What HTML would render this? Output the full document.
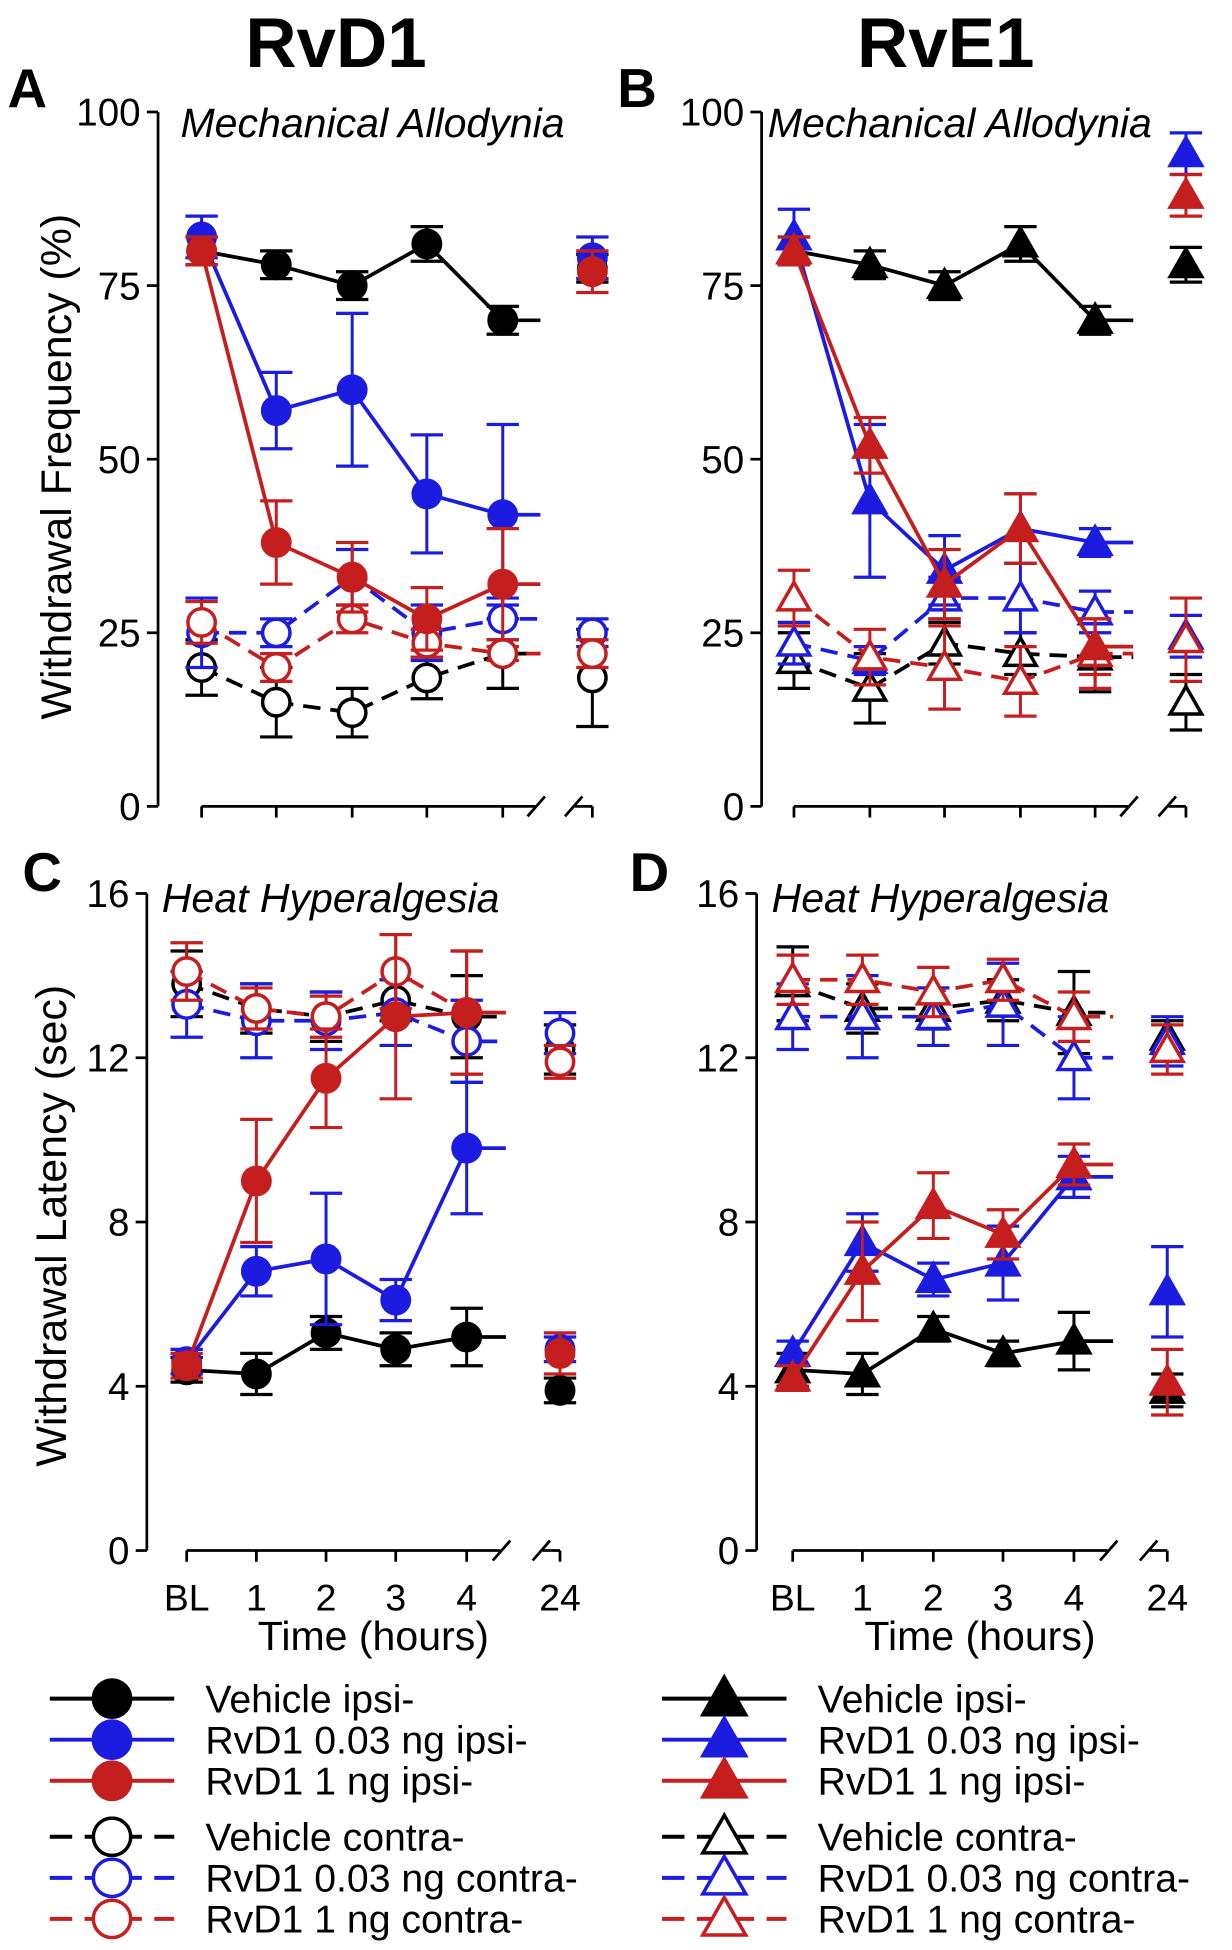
<!DOCTYPE html>
<html><head><meta charset="utf-8"><style>
html,body{margin:0;padding:0;background:#fff;}
svg{display:block;font-family:"Liberation Sans",Arial,sans-serif;}
</style></head><body>
<svg id="fig" width="1232" height="1950" viewBox="0 0 990 1567" xmlns="http://www.w3.org/2000/svg">
<text x="270" y="54" font-size="57" font-weight="bold" text-anchor="middle">RvD1</text>
<text x="760" y="54" font-size="57" font-weight="bold" text-anchor="middle">RvE1</text>
</svg>
<script>
// ---- Data ----
const hours = ["BL","1","2","3","4","24"];
const seriesNames = ["Vehicle ipsi-","RvD1 0.03 ng ipsi-","RvD1 1 ng ipsi-","Vehicle contra-","RvD1 0.03 ng contra-","RvD1 1 ng contra-"];
const yTicksPct = [0,25,50,75,100];
const yTicksSec = [0,4,8,12,16];
// Panel A (RvD1 mechanical, %)
const aVehIpsi = [80,78,75,81,70,77.5];   const aVehIpsiErr = [2,2,2,2.5,2,2];
const aLowIpsi = [82,57,60,45,42,79];     const aLowIpsiErr = [3,5.5,11,8.5,13,3];
const aHighIpsi = [80,38,33,27,32,77];    const aHighIpsiErr = [2,6,5,4.5,8,3];
const aVehCon = [20,15,13.5,18.5,22,18.5]; const aVehConErr = [4,5,3.5,3,5,7];
const aLowCon = [25,25,33,25,27,25];      const aLowConErr = [5,2,4,4,3,2];
const aHighCon = [26.5,20,27,23.5,22,22]; const aHighConErr = [3,2,2,2,1,2];
// Panel B (RvE1 mechanical, %)
const bVehIpsi = [80,78,75,81,70,78];     const bVehIpsiErr = [2,2,2,2.5,2,2.5];
const bLowIpsi = [82,44,34,40,38,94];     const bLowIpsiErr = [4,11,5,5,2,3];
const bHighIpsi = [80,52,32,40,23,88];    const bHighIpsiErr = [2,4,5,5,4,3];
const bVehCon = [21,17,23.5,22,21.5,15];  const bVehConErr = [4,5,3,3,5,4];
const bLowCon = [23.5,21,30,30,28,24.5];  const bLowConErr = [3,2,3,5,3,3];
const bHighCon = [30,21.5,20,18,22,24];   const bHighConErr = [4,4,6,5,5,6];
// Panel C (RvD1 heat, sec)
const cVehIpsi = [4.4,4.3,5.3,4.9,5.2,3.9];   const cVehIpsiErr = [0.3,0.5,0.4,0.4,0.7,0.3];
const cLowIpsi = [4.6,6.8,7.1,6.1,9.8,4.9];   const cLowIpsiErr = [0.3,0.6,1.6,0.5,1.6,0.3];
const cHighIpsi = [4.5,9.0,11.5,13.0,13.1,4.8]; const cHighIpsiErr = [0.3,1.5,1.2,2,1.5,0.5];
const cVehCon = [13.8,13.2,13.0,13.4,13.0,12.2]; const cVehConErr = [0.8,0.6,0.6,0.5,1,0.6];
const cLowCon = [13.3,12.9,12.9,13.1,12.4,12.6]; const cLowConErr = [0.8,0.9,0.7,0.8,1,0.5];
const cHighCon = [14.1,13.2,13.0,14.1,13.1,11.9]; const cHighConErr = [0.7,0.5,0.5,0.9,1.5,0.4];
// Panel D (RvE1 heat, sec)
const dVehIpsi = [4.4,4.3,5.4,4.8,5.1,3.9];   const dVehIpsiErr = [0.4,0.5,0.3,0.3,0.7,0.4];
const dLowIpsi = [4.8,7.5,6.6,7.0,9.1,6.3];   const dLowIpsiErr = [0.3,0.7,0.4,0.9,0.5,1.1];
const dHighIpsi = [4.2,6.8,8.4,7.7,9.4,4.1];  const dHighIpsiErr = [0.3,1.2,0.8,0.6,0.5,0.8];
const dVehCon = [13.8,13.2,13.2,13.4,13.1,12.5]; const dVehConErr = [0.9,0.6,0.5,0.5,1,0.4];
const dLowCon = [13.0,13.0,13.0,13.3,12.0,12.4]; const dLowConErr = [0.8,1,0.7,1,1,0.6];
const dHighCon = [13.9,13.9,13.6,13.9,13.0,12.2]; const dHighConErr = [0.6,0.6,0.6,0.5,0.6,0.6];

const NS = "http://www.w3.org/2000/svg";
const svg = document.getElementById("fig");
const COLORS = ["#000000","#1c1ce0","#c41e1e","#000000","#1c1ce0","#c41e1e"];

function mk(tag, attrs, parent){
  const e = document.createElementNS(NS, tag);
  for (const k in attrs) e.setAttribute(k, attrs[k]);
  (parent||svg).appendChild(e);
  return e;
}

function marker(g, shape, x, y, color, filled, r){
  let m;
  if (shape === "circle") {
    m = mk("circle", {cx:x, cy:y, r:r, fill: filled?color:"#fff", stroke:color, "stroke-width":2.8}, g);
  } else {
    const s = r*1.15;
    m = mk("polygon", {points:`${x},${y-s} ${x-s},${y+s*0.75} ${x+s},${y+s*0.75}`, fill: filled?color:"#fff", stroke:color, "stroke-width":2.8}, g);
  }
  return m;
}

function panel(p){
  const g = mk("g", {});
  
  
  const yS = v => p.y0 - (v - p.ymin)/(p.ymax - p.ymin)*(p.y0 - p.y1);
  const xS = i => p.xs[i];
  const ax = mk("line", {x1:p.ax, y1:p.y1, x2:p.ax, y2:p.y0, stroke:"#000", "stroke-width":2.2}, g);
  
  
  p.ticks.forEach(t => {
    mk("line", {x1:p.ax-9, y1:yS(t), x2:p.ax, y2:yS(t), stroke:"#000", "stroke-width":2.2}, g);
    const tl = mk("text", {x:p.ax-14, y:yS(t)+11, "font-size":31, "text-anchor":"end"}, g);
    tl.textContent = t;
    
    
  });
  const xa = p.y0;
  const brk1 = xS(4) + (xS(5)-xS(4))*0.36, brk2 = xS(5) - 14;
  mk("line", {x1:xS(0), y1:xa, x2:brk1, y2:xa, stroke:"#000", "stroke-width":2.2}, g);
  mk("line", {x1:brk2, y1:xa, x2:xS(5), y2:xa, stroke:"#000", "stroke-width":2.2}, g);
  mk("line", {x1:brk1-6, y1:xa+8, x2:brk1+8, y2:xa-8, stroke:"#000", "stroke-width":2.2}, g);
  mk("line", {x1:brk2-8, y1:xa+8, x2:brk2+6, y2:xa-8, stroke:"#000", "stroke-width":2.2}, g);
  for (let i=0;i<6;i++) mk("line", {x1:xS(i), y1:xa, x2:xS(i), y2:xa+9, stroke:"#000", "stroke-width":2.2}, g);
  if (p.xlabels) {
    hours.forEach((h,i)=>{
      const t = mk("text", {x:xS(i), y:xa+48, "font-size":30, "text-anchor":"middle"}, g);
      t.textContent = h;
      
      
    });
    const xt = mk("text", {x:(xS(0)+xS(5))/2, y:xa+80, "font-size":33, "text-anchor":"middle"}, g);
    xt.textContent = "Time (hours)";
    
    
  }
  const L = mk("text", {x:p.lx, y:p.ly, "font-size":44, "font-weight":"bold"}, g);
  L.textContent = p.id;
  
  
  const st = mk("text", {x:p.sx, y:p.sy, "font-size":33, "font-style":"italic"}, g);
  st.textContent = p.sub;
  
  
  if (p.ytitle) {
    const yt = mk("text", {x:0, y:0, "font-size":34.5, "text-anchor":"middle", transform:`translate(${p.ytx},${p.yty}) rotate(-90)`}, g);
    yt.textContent = p.ytitle;
    
    
  }
  const order = [3,4,5,0,1,2];
  order.forEach(si => {
    const vals = p.series[si], errs = p.errs[si];
    const col = COLORS[si], filled = si < 3;
    const sg = mk("g", {}, g);
    
    
    for (let i=0;i<6;i++){
      const x = xS(i);
      const top = yS(vals[i]+errs[i]), bot = yS(vals[i]-errs[i]);
      mk("line", {x1:x, y1:top, x2:x, y2:bot, stroke:col, "stroke-width":2.4}, sg);
      mk("line", {x1:x-13, y1:top, x2:x+13, y2:top, stroke:col, "stroke-width":2.6}, sg);
      mk("line", {x1:x-13, y1:bot, x2:x+13, y2:bot, stroke:col, "stroke-width":2.6}, sg);
    }
    let d = "";
    for (let i=0;i<5;i++) d += (i?"L":"M") + xS(i) + "," + yS(vals[i]);
    d += "L" + (xS(4) + (xS(5)-xS(4))*0.42) + "," + yS(vals[4]);
    const ln = mk("path", {d:d, fill:"none", stroke:col, "stroke-width":3}, sg);
    if (!filled) ln.setAttribute("stroke-dasharray","14,8");
    
    
    for (let i=0;i<6;i++){
      const m = marker(sg, p.shape, xS(i), yS(vals[i]), col, filled, 11);
      
      
    }
  });
}

panel({id:"A", shape:"circle", ax:127, y0:648, y1:90, ymin:0, ymax:100, ticks:yTicksPct,
  xs:[162,222,283,343,404,476], xlabels:false, lx:6, ly:86, sx:145, sy:110, sub:"Mechanical Allodynia",
  ytitle:"Withdrawal Frequency (%)", ytx:57, yty:375,
  series:[aVehIpsi,aLowIpsi,aHighIpsi,aVehCon,aLowCon,aHighCon],
  errs:[aVehIpsiErr,aLowIpsiErr,aHighIpsiErr,aVehConErr,aLowConErr,aHighConErr]});
panel({id:"B", shape:"tri", ax:612, y0:648, y1:90, ymin:0, ymax:100, ticks:yTicksPct,
  xs:[638,699,759,820,880,953], xlabels:false, lx:496, ly:86, sx:617, sy:110, sub:"Mechanical Allodynia",
  series:[bVehIpsi,bLowIpsi,bHighIpsi,bVehCon,bLowCon,bHighCon],
  errs:[bVehIpsiErr,bLowIpsiErr,bHighIpsiErr,bVehConErr,bLowConErr,bHighConErr]});
panel({id:"C", shape:"circle", ax:118, y0:1246, y1:718, ymin:0, ymax:16, ticks:yTicksSec,
  xs:[150,206,262,318,375,450], xlabels:true, lx:18, ly:716, sx:130, sy:733, sub:"Heat Hyperalgesia",
  ytitle:"Withdrawal Latency (sec)", ytx:53, yty:985,
  series:[cVehIpsi,cLowIpsi,cHighIpsi,cVehCon,cLowCon,cHighCon],
  errs:[cVehIpsiErr,cLowIpsiErr,cHighIpsiErr,cVehConErr,cLowConErr,cHighConErr]});
panel({id:"D", shape:"tri", ax:608, y0:1246, y1:718, ymin:0, ymax:16, ticks:yTicksSec,
  xs:[637,693,750,806,863,938], xlabels:true, lx:506, ly:716, sx:620, sy:733, sub:"Heat Hyperalgesia",
  series:[dVehIpsi,dLowIpsi,dHighIpsi,dVehCon,dLowCon,dHighCon],
  errs:[dVehIpsiErr,dLowIpsiErr,dHighIpsiErr,dVehConErr,dLowConErr,dHighConErr]});

const legRows = [1365,1398,1431,1476,1509,1542];
function legend(x0, shape, name){
  const g = mk("g", {});
  
  
  seriesNames.forEach((s,i)=>{
    const y = legRows[i], col = COLORS[i], filled = i<3;
    const eg = mk("g", {}, g);
    
    
    const l = mk("line", {x1:x0, y1:y, x2:x0+100, y2:y, stroke:col, "stroke-width":3.2}, eg);
    if (!filled) l.setAttribute("stroke-dasharray","18,10");
    marker(eg, shape, x0+50, y, col, filled, 15);
    const t = mk("text", {x:x0+125, y:y+11, "font-size":31.5}, eg);
    t.textContent = s;
  });
}
legend(40, "circle", "legend-rvd1");
legend(532, "tri", "legend-rve1");
</script>
</body></html>
